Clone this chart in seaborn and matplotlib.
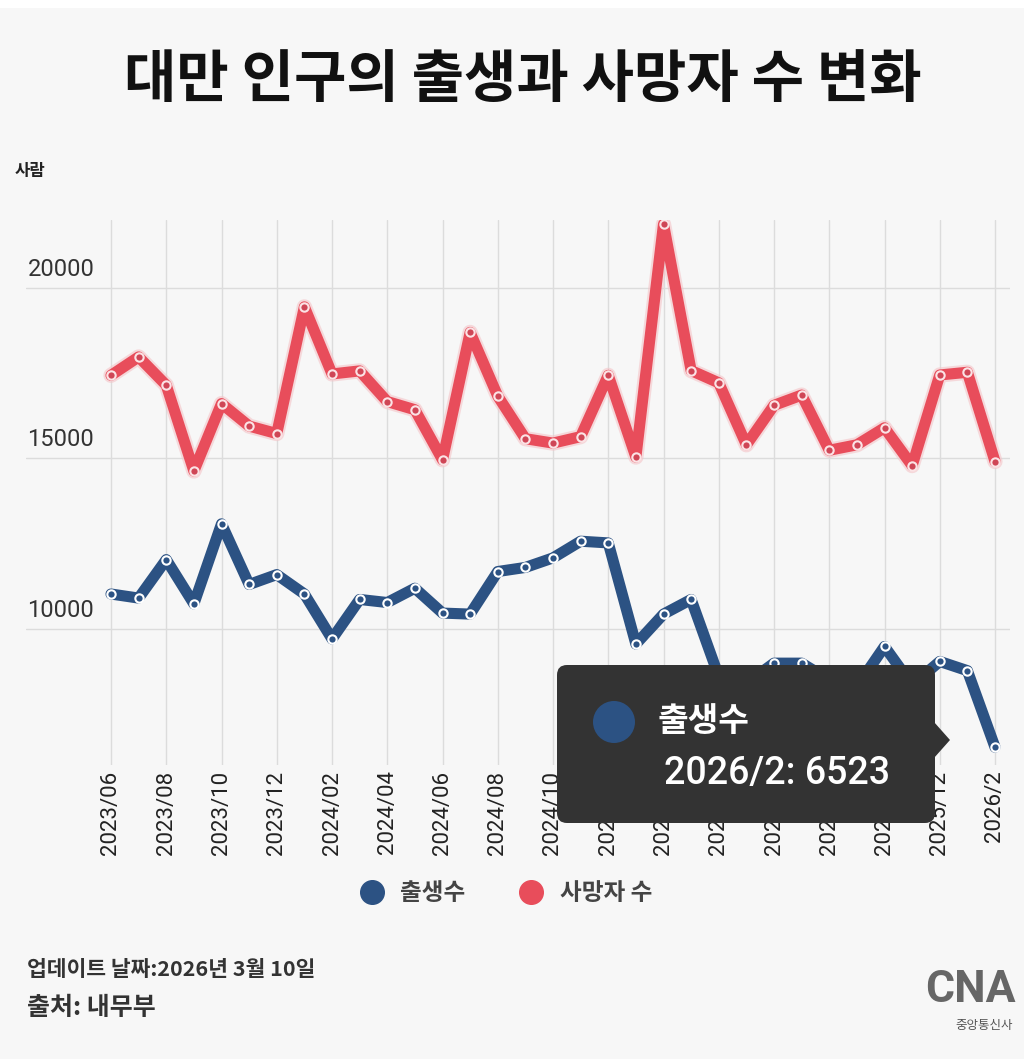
import numpy as np
import pandas as pd
import matplotlib
matplotlib.use("Agg")
import matplotlib.pyplot as plt
import matplotlib.patches as mpatches
import matplotlib.transforms as mtrans
from matplotlib.lines import Line2D
import seaborn as sns

# monthly data, 2023/06 - 2026/2
months = ["2023/06", "2023/07", "2023/08", "2023/09", "2023/10", "2023/11", "2023/12",
          "2024/01", "2024/02", "2024/03", "2024/04", "2024/05", "2024/06", "2024/07",
          "2024/08", "2024/09", "2024/10", "2024/11", "2024/12",
          "2025/01", "2025/02", "2025/03", "2025/04", "2025/05", "2025/06", "2025/07",
          "2025/08", "2025/09", "2025/10", "2025/11", "2025/12",
          "2026/1", "2026/2"]
births = [11020, 10900, 12030, 10730, 13080, 11300, 11590,
          11020, 9700, 10860, 10770, 11190, 10460, 10430,
          11680, 11800, 12080, 12570, 12520,
          9550, 10430, 10860, 8600, 8400, 8990, 8990,
          8500, 8300, 9480, 8350, 9040,
          8770, 6523]
deaths = [17440, 17980, 17150, 14630, 16610, 15950, 15730,
          19450, 17480, 17570, 16670, 16430, 14960, 18700,
          16830, 15580, 15450, 15640, 17440,
          15040, 21880, 17580, 17220, 15400, 16560, 16860,
          15240, 15400, 15900, 14790, 17450,
          17530, 14910]
y_ticks = [10000, 15000, 20000]
series_names = ["출생수", "사망자 수"]

BLUE = "#2c5283"
RED = "#e84d5b"
BG = "#f7f7f7"

sns.set_theme(style="white")
plt.rcParams["font.family"] = ["Noto Sans CJK KR", "DejaVu Sans"]

W, H = 1024, 1059
fig = plt.figure(figsize=(W / 100, H / 100), dpi=100, facecolor=BG)


def fpos(x, y):
    # pixel position (from top-left) to figure fraction
    return x / W, 1 - y / H


# white strip at the very top
fig.add_artist(mpatches.Rectangle((0, 1 - 8 / H), 1, 8 / H, transform=fig.transFigure,
                                  facecolor="white", edgecolor="none", zorder=0))

ax = fig.add_axes([26 / W, 1 - 765 / H, (1010 - 26) / W, (765 - 220) / H])
ax.set_facecolor(BG)

df = pd.DataFrame({"idx": np.arange(len(months)), "month": months,
                   "births": births, "deaths": deaths})

# faint halo under the red line
sns.lineplot(data=df, x="idx", y="deaths", ax=ax, color="#f4c4c8", linewidth=11,
             alpha=0.6, solid_joinstyle="round", solid_capstyle="round", zorder=2)
sns.lineplot(data=df, x="idx", y="deaths", ax=ax, color=RED, linewidth=8,
             solid_joinstyle="round", solid_capstyle="round", marker="o",
             markersize=6, markerfacecolor="#cf4656", markeredgecolor="#fbe3e5",
             markeredgewidth=1.5, zorder=3)
sns.lineplot(data=df, x="idx", y="births", ax=ax, color=BLUE, linewidth=8,
             solid_joinstyle="round", solid_capstyle="round", marker="o",
             markersize=6, markerfacecolor=BLUE, markeredgecolor="white",
             markeredgewidth=1.5, zorder=3)

n = len(months)
step = (995 - 111) / (n - 1)
ax.set_xlim(-(111 - 26) / step, (n - 1) + (1010 - 995) / step)
ax.set_ylim(6000, 22000)

xt = list(range(0, n, 2))
ax.set_xticks(xt)
ax.set_xticklabels([months[i] for i in xt], rotation=90, fontsize=16,
                   color="#222222", family=["Roboto", "DejaVu Sans"])
ax.tick_params(axis="x", length=0, pad=4)
ax.set_yticks(y_ticks)
ax.set_yticklabels([])
ax.tick_params(axis="y", length=0)
ax.grid(True, color="#dcdcdc", linewidth=1)
ax.set_axisbelow(True)
for s in ax.spines.values():
    s.set_visible(False)
ax.set_xlabel("")
ax.set_ylabel("")

for v in y_ticks:
    ax.annotate(f"{v}", xy=(0, v), xycoords=("axes fraction", "data"),
                xytext=(1, 5), textcoords="offset points", va="bottom", ha="left",
                fontsize=17, color="#333333", family=["Roboto", "DejaVu Sans"])

# title and unit
fig.text(*fpos(523, 80), "대만 인구의 출생과 사망자 수 변화", ha="center", va="center",
         fontsize=41, fontweight="black", color="#111111")
fig.text(*fpos(15, 171), "사람", ha="left", va="center", fontsize=12,
         fontweight="bold", color="#222222")

# legend
handles = [Line2D([], [], marker="o", linestyle="none", markersize=17,
                  markerfacecolor=c, markeredgecolor=c) for c in (BLUE, RED)]
leg = fig.legend(handles, series_names, loc="center", bbox_to_anchor=fpos(500, 893),
                 ncol=2, frameon=False, fontsize=17, handletextpad=0.2,
                 columnspacing=1.8)
for t in leg.get_texts():
    t.set_color("#444444")
    t.set_fontweight("bold")

# tooltip overlay
ident = mtrans.IdentityTransform()
fig.add_artist(mpatches.FancyBboxPatch((557, H - 823), 378, 158,
                                       boxstyle="round,pad=0,rounding_size=10",
                                       transform=ident, facecolor="#333333",
                                       edgecolor="none", zorder=10))
fig.add_artist(mpatches.Polygon([(934, H - 722), (950, H - 740), (934, H - 758)],
                                closed=True, transform=ident, facecolor="#333333",
                                edgecolor="none", zorder=10))
fig.add_artist(mpatches.Circle((614, H - 722), 21, transform=ident,
                               facecolor=BLUE, edgecolor="none", zorder=11))
fig.text(*fpos(658, 722), series_names[0], ha="left", va="center", fontsize=24,
         fontweight="bold", color="white", zorder=11)
fig.text(*fpos(664, 773), f"{months[-1]}: {births[-1]}", ha="left", va="center",
         fontsize=27, fontweight="medium", color="white",
         family=["Roboto", "DejaVu Sans"], zorder=11)

# footer
fig.text(*fpos(27, 970), "업데이트 날짜:2026년 3월 10일", ha="left", va="center",
         fontsize=15.5, fontweight="bold", color="#333333")
fig.text(*fpos(27, 1008), "출처: 내무부", ha="left", va="center", fontsize=18,
         fontweight="bold", color="#333333")
fig.text(*fpos(970, 990), "CNA", ha="center", va="center", fontsize=32,
         fontweight="bold", color="#666666", family=["Roboto", "DejaVu Sans"])
fig.text(*fpos(984, 1025), "중앙통신사", ha="center", va="center", fontsize=9,
         color="#555555")

fig.savefig("out.png", dpi=100, facecolor=BG)
